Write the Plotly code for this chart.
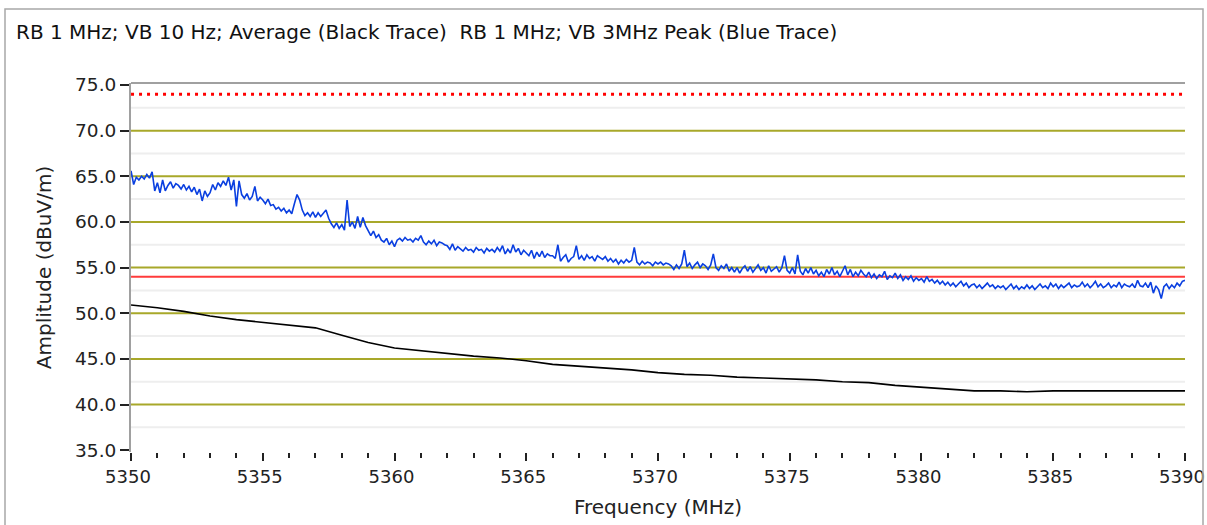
import plotly.graph_objects as go

# ---------------- data ----------------
title_text = "RB 1 MHz; VB 10 Hz; Average (Black Trace)  RB 1 MHz; VB 3MHz Peak (Blue Trace)"
x_title = "Frequency (MHz)"
y_title = "Amplitude (dBuV/m)"

f_start = 5350.0
f_stop = 5390.0

peak_limit = 74.0   # red dotted
avg_limit = 54.0    # red solid

# Peak (blue) trace, 0.1 MHz step
peak_step = 0.1
peak_values = [
    65.6, 64.1, 64.9, 64.6, 65.0, 64.7, 65.2, 64.8, 65.5, 63.4,   # 5350
    64.3, 63.2, 64.6, 63.4, 64.0, 64.4, 63.7, 64.2, 64.0, 63.6,   # 5351
    64.1, 63.5, 63.9, 63.3, 63.8, 63.0, 63.6, 62.3, 63.4, 62.8,   # 5352
    63.2, 64.1, 63.5, 64.3, 63.9, 64.5, 64.0, 64.9, 63.5, 64.6,   # 5353
    61.7, 64.5, 63.0, 62.6, 63.1, 62.4, 62.8, 63.9, 62.3, 62.7,   # 5354
    62.4, 62.0, 62.5, 61.8, 61.9, 61.4, 61.6, 61.2, 61.5, 61.0,   # 5355
    61.3, 60.9, 62.0, 63.0, 62.4, 61.3, 60.7, 61.0, 60.6, 61.1,   # 5356
    60.5, 61.0, 60.6, 60.9, 61.3, 60.4, 59.8, 59.4, 59.9, 59.3,   # 5357
    59.7, 59.1, 62.4, 59.5, 60.0, 59.3, 60.6, 59.4, 60.5, 59.6,   # 5358
    59.0, 58.5, 59.0, 58.3, 58.6, 58.0, 57.8, 58.2, 57.5, 57.9,   # 5359
    57.3, 58.0, 58.2, 57.9, 58.3, 58.0, 58.1, 57.8, 58.2, 58.0,   # 5360
    58.5, 57.8, 57.5, 57.9, 57.6, 58.0, 57.4, 57.8, 57.7, 57.5,   # 5361
    57.4, 57.0, 57.6, 56.9, 57.3, 57.1, 56.8, 57.2, 56.9, 57.0,   # 5362
    56.7, 57.2, 56.9, 57.0, 56.6, 57.1, 56.8, 57.0, 56.7, 57.2,   # 5363
    56.8, 57.4, 56.5, 57.0, 56.6, 57.5, 56.7, 57.1, 56.4, 56.9,   # 5364
    56.6, 56.3, 56.9, 56.0, 56.7, 56.2, 56.8, 56.1, 56.5, 56.3,   # 5365
    56.3, 56.0, 57.5, 55.7, 56.1, 56.4, 55.6, 56.0, 56.2, 57.4,   # 5366
    55.9, 56.3, 55.8, 56.4, 56.0, 56.2, 55.7, 56.3, 56.1, 55.9,   # 5367
    56.2, 55.7, 56.0, 55.6, 55.9, 55.4, 55.8, 55.5, 55.9, 55.6,   # 5368
    55.8, 57.2, 55.6, 55.3, 55.7, 55.4, 55.6, 55.5, 55.2, 55.6,   # 5369
    55.4, 55.6, 55.3, 55.5, 55.4, 55.2, 54.8, 55.3, 54.9, 55.4,   # 5370
    56.9, 55.1, 55.5, 54.9, 55.3, 55.6, 55.0, 55.4, 55.2, 54.8,   # 5371
    55.3, 56.5, 55.0, 54.7, 55.2, 54.9, 55.4, 54.6, 55.0, 54.5,   # 5372
    55.0, 54.4, 54.9, 55.2, 54.6, 55.1, 54.5, 54.9, 55.3, 54.7,   # 5373
    55.0, 54.4, 55.2, 54.6, 54.9, 55.1, 54.5, 55.0, 56.3, 54.7,   # 5374
    54.4, 55.0, 54.3, 56.4, 54.6, 54.2, 54.9, 54.4, 55.0, 54.3,   # 5375
    54.7, 54.1, 54.5, 54.0, 54.8, 54.3, 55.0, 54.2, 54.6, 54.0,   # 5376
    54.6, 55.2, 54.2, 54.8, 54.0, 54.5, 54.1, 54.7, 54.3, 54.0,   # 5377
    54.5, 53.9, 54.3, 53.8, 54.2, 54.0, 54.6, 53.7, 54.1, 53.9,   # 5378
    54.4, 53.8, 54.2, 53.6, 54.0, 53.7, 54.1, 53.5, 53.9, 53.6,   # 5379
    53.8, 53.4, 54.0, 53.5, 53.7, 53.3, 53.6, 53.2, 53.5, 53.1,   # 5380
    53.4, 53.0, 53.3, 52.9, 53.2, 53.5, 53.0, 53.3, 52.8, 53.1,   # 5381
    53.2, 52.8, 53.1, 52.7, 53.0, 53.3, 52.9, 53.1, 52.7, 53.0,   # 5382
    52.8, 53.0, 52.6, 52.9, 53.2, 52.7, 53.0, 52.6, 52.9, 52.7,   # 5383
    53.1, 52.7, 53.0, 52.6, 52.9, 53.2, 52.8, 53.0, 52.7, 53.3,   # 5384
    52.9, 53.2, 52.7, 53.1, 52.8, 53.0, 53.3, 52.8, 53.1, 52.9,   # 5385
    53.0, 53.4, 52.9, 53.2, 52.8, 53.1, 53.5, 52.9, 53.2, 52.8,   # 5386
    53.0, 53.3, 52.8, 53.1, 52.9, 53.4, 52.8, 53.2, 53.0, 52.9,   # 5387
    53.2, 52.8, 53.6, 53.0, 52.9, 53.3, 52.8, 53.4, 52.2, 53.0,   # 5388
    52.6, 51.6, 52.9, 53.2, 52.7, 53.1, 52.8, 53.3, 53.0, 53.5,   # 5389
    53.6,                                                         # 5390
]

# Average (black) trace, 1 MHz step
avg_freqs = [5350, 5351, 5352, 5353, 5354, 5355, 5356, 5357, 5358, 5359,
             5360, 5361, 5362, 5363, 5364, 5365, 5366, 5367, 5368, 5369,
             5370, 5371, 5372, 5373, 5374, 5375, 5376, 5377, 5378, 5379,
             5380, 5381, 5382, 5383, 5384, 5385, 5386, 5387, 5388, 5389, 5390]
avg_values = [50.9, 50.6, 50.2, 49.7, 49.3, 49.0, 48.7, 48.4, 47.6, 46.8,
              46.2, 45.9, 45.6, 45.3, 45.1, 44.8, 44.4, 44.2, 44.0, 43.8,
              43.5, 43.3, 43.2, 43.0, 42.9, 42.8, 42.7, 42.5, 42.4, 42.1,
              41.9, 41.7, 41.5, 41.5, 41.4, 41.5, 41.5, 41.5, 41.5, 41.5, 41.5]

y_major_ticks = [35.0, 40.0, 45.0, 50.0, 55.0, 60.0, 65.0, 70.0, 75.0]
y_grid_lines = [40.0, 45.0, 50.0, 55.0, 60.0, 65.0, 70.0]
y_minor_grid = [37.5, 42.5, 47.5, 52.5, 57.5, 62.5, 67.5, 72.5]
x_major_ticks = [5350, 5355, 5360, 5365, 5370, 5375, 5380, 5385, 5390]

peak_freqs = [round(f_start + i * peak_step, 1) for i in range(len(peak_values))]

# ---------------- figure ----------------
FONT = "DejaVu Sans"
L, R, T, B = 131, 22, 83, 73
W, H = 1207, 525
pw, ph = W - L - R, H - T - B


def px_x(p):
    return (p - L) / pw


def px_y(p):
    return (H - B - p) / ph


fig = go.Figure()

fig.add_trace(go.Scatter(x=[f_start, f_stop], y=[peak_limit, peak_limit], mode="lines",
                         line=dict(color="#ff0000", width=3, dash="3px,5px"),
                         hoverinfo="skip", showlegend=False))
fig.add_trace(go.Scatter(x=[f_start, f_stop], y=[avg_limit, avg_limit], mode="lines",
                         line=dict(color="#ff3b3b", width=2),
                         hoverinfo="skip", showlegend=False))
fig.add_trace(go.Scatter(x=avg_freqs, y=avg_values, mode="lines",
                         line=dict(color="#000000", width=1.6),
                         showlegend=False))
fig.add_trace(go.Scatter(x=peak_freqs, y=peak_values, mode="lines",
                         line=dict(color="#0a3fe0", width=1.6),
                         showlegend=False))

shapes = []
for v in y_minor_grid:
    shapes.append(dict(type="line", xref="paper", yref="y", x0=0, x1=1, y0=v, y1=v,
                       line=dict(color="#eeeeee", width=2), layer="below"))
for v in y_grid_lines:
    shapes.append(dict(type="line", xref="paper", yref="y", x0=0, x1=1, y0=v, y1=v,
                       line=dict(color="#a8a82a", width=2), layer="below"))
shapes += [
    # top border of plot
    dict(type="line", xref="paper", yref="paper", x0=0, x1=1, y0=1, y1=1,
         line=dict(color="#a0a0a0", width=2)),
    # outer frame
    dict(type="rect", xref="paper", yref="paper",
         x0=px_x(5), x1=px_x(1203), y0=px_y(9), y1=px_y(540),
         line=dict(color="#a8a8a8", width=1.5), fillcolor="rgba(0,0,0,0)"),
]

fig.update_layout(
    width=W, height=H,
    margin=dict(l=L, r=R, t=T, b=B, autoexpand=False),
    paper_bgcolor="white", plot_bgcolor="white",
    font=dict(family=FONT, color="#222222"),
    shapes=shapes,
    annotations=[dict(text=title_text, xref="paper", yref="paper",
                      x=px_x(14), y=px_y(32), xanchor="left", yanchor="middle",
                      showarrow=False, font=dict(family=FONT, size=20, color="#111111"))],
)

fig.update_xaxes(
    range=[f_start - 0.001, f_stop + 0.001],
    tickvals=x_major_ticks, ticktext=[str(v) for v in x_major_ticks],
    ticks="outside", ticklen=8, tickwidth=1.5, tickcolor="#222222",
    tickfont=dict(family=FONT, size=18, color="#222222"),
    ticklabeloverflow="allow", ticklabelshift=-3,
    showgrid=False, zeroline=False, showline=False, automargin=False,
    minor=dict(dtick=1, tick0=5350, ticks="outside", ticklen=5, tickwidth=1.5,
               tickcolor="#222222", showgrid=False),
    title=dict(text=x_title, font=dict(family=FONT, size=20, color="#222222"), standoff=14),
)

fig.update_yaxes(
    range=[34.8, 75.22],
    tickvals=y_major_ticks, ticktext=[f"{v:.1f}" for v in y_major_ticks],
    ticks="outside", ticklen=9, tickwidth=2, tickcolor="#222222",
    tickfont=dict(family=FONT, size=18.5, color="#222222"),
    showgrid=False, zeroline=False, showline=True, linecolor="#a0a0a0", linewidth=2,
    automargin=False,
    title=dict(text=y_title, font=dict(family=FONT, size=20, color="#222222"), standoff=18),
)

fig.write_html("out.html", config={"displayModeBar": False},
               post_script="document.body.style.margin='0px';document.body.style.overflow='hidden';")
